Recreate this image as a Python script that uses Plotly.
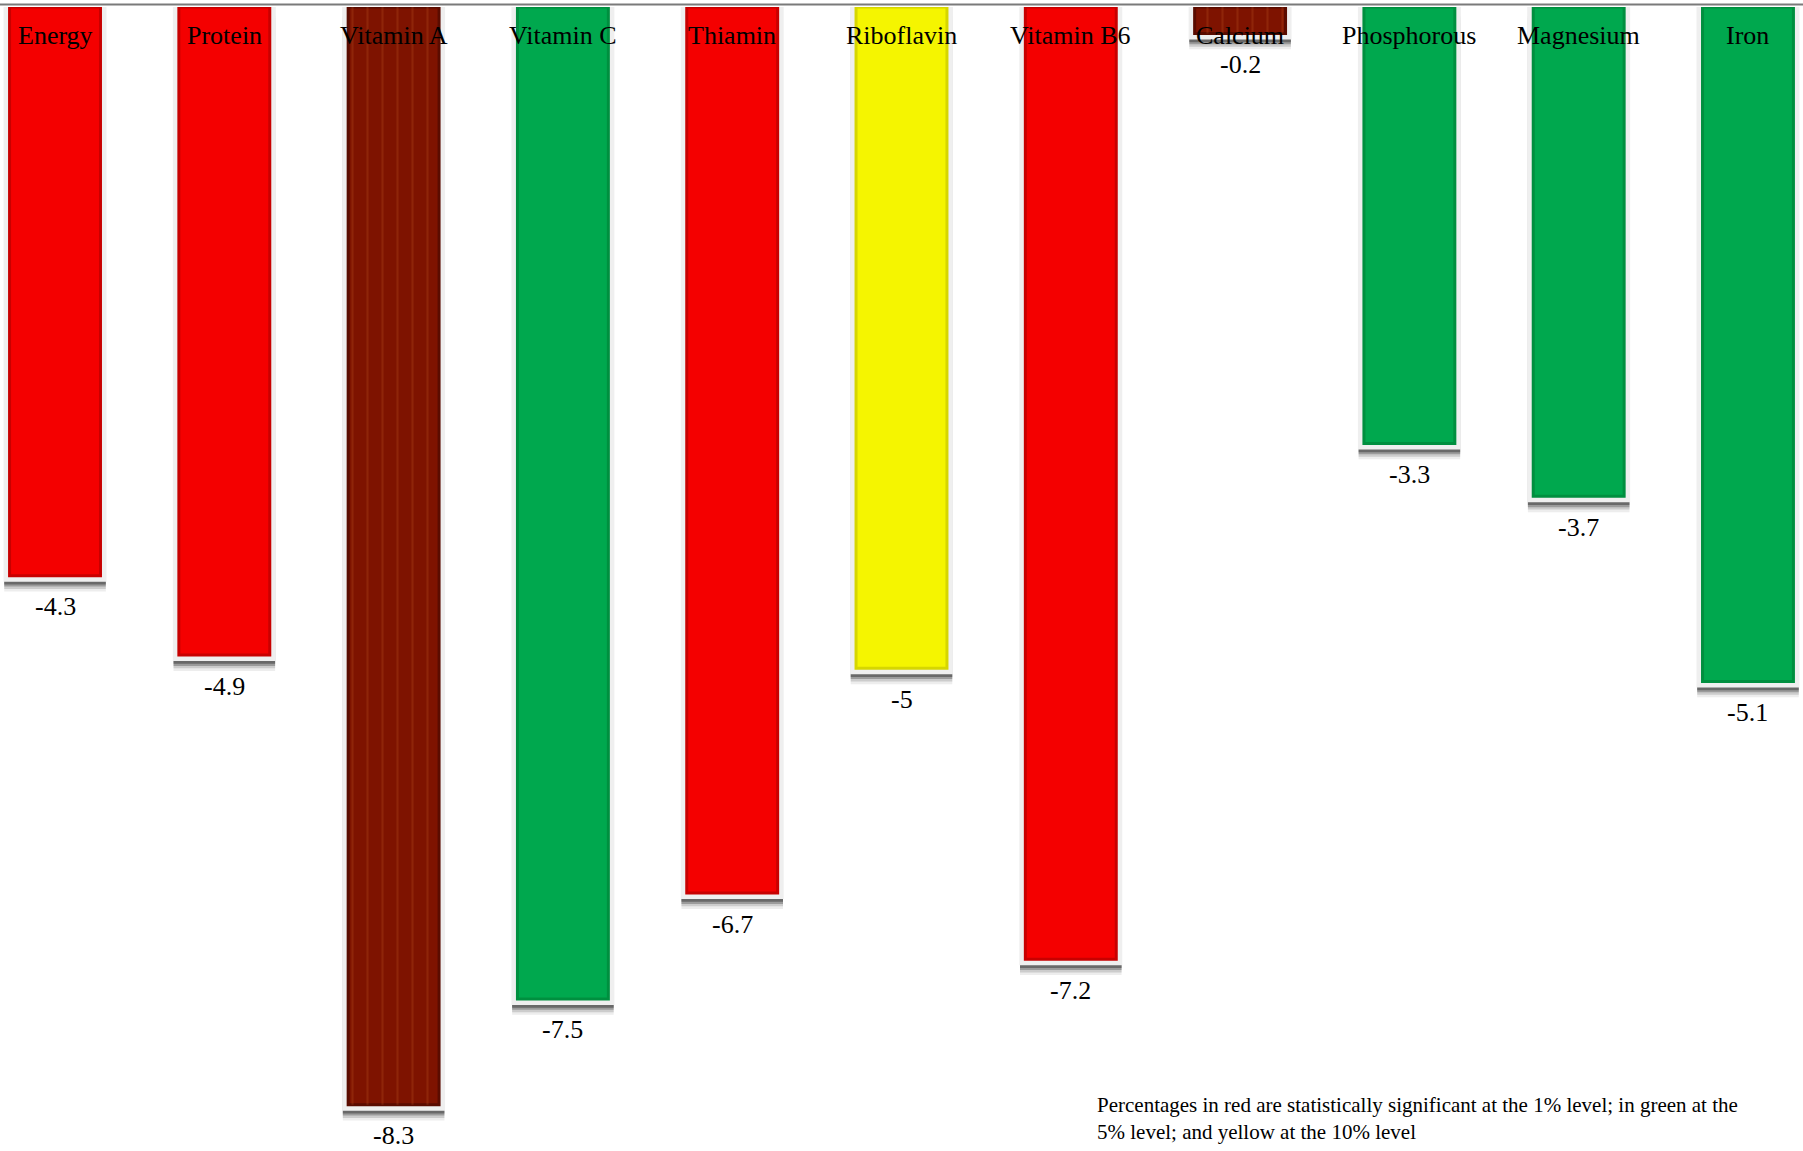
import plotly.graph_objects as go

# Percentage change in nutrient intake, by nutrient
nutrients = ["Energy", "Protein", "Vitamin A", "Vitamin C", "Thiamin", "Riboflavin",
             "Vitamin B6", "Calcium", "Phosphorous", "Magnesium", "Iron"]
change = [-4.3, -4.9, -8.3, -7.5, -6.7, -5, -7.2, -0.2, -3.3, -3.7, -5.1]
significance = ["1%", "1%", "ns", "5%", "1%", "10%", "1%", "ns", "5%", "5%", "5%"]

note = ("Percentages in red are statistically significant at the 1% level; in green at the<br>"
        "5% level; and yellow at the 10% level")

fill_colors = {"1%": "#f40000", "5%": "#00a84e", "10%": "#f5f500", "ns": "#7e1300"}
edge_colors = {"1%": "#c80000", "5%": "#008f3f", "10%": "#d6d600", "ns": "#5a0c00"}

W, H = 1803, 1151
TOP = 7
YMIN = -8.65
x = list(range(len(nutrients)))
fills = [fill_colors[s] for s in significance]
edges = [edge_colors[s] for s in significance]

serif = "Liberation Serif, Times New Roman, serif"
bar_w = 0.537

fig = go.Figure()

# soft drop shadow under each bar
for base, alpha in [(-0.12, 0.08), (-0.1, 0.16), (-0.082, 0.28), (-0.066, 0.40)]:
    fig.add_trace(go.Bar(
        x=x, y=change, base=base, width=0.6,
        marker=dict(color=f"rgba(30,30,30,{alpha})", line=dict(width=0)),
        hoverinfo="skip", showlegend=False))

# light frame around each bar
fig.add_trace(go.Bar(
    x=x, y=change, width=bar_w,
    marker=dict(color="#efefef", line=dict(color="#efefef", width=12)),
    hoverinfo="skip", showlegend=False))

# coloured bars
fig.add_trace(go.Bar(
    x=x, y=change, width=bar_w,
    marker=dict(color=fills, line=dict(color=edges, width=3)),
    showlegend=False))

# faint vertical stripes over the non-significant bars
ns = [i for i, s in enumerate(significance) if s == "ns"]
fig.add_trace(go.Bar(
    x=[x[i] for i in ns], y=[change[i] for i in ns], width=bar_w - 0.02,
    marker=dict(color="rgba(0,0,0,0)", line=dict(width=0),
                pattern=dict(shape="|", size=15, solidity=0.14, fillmode="overlay",
                             fgcolor="rgba(200,95,40,0.45)", bgcolor="rgba(0,0,0,0)")),
    hoverinfo="skip", showlegend=False))

annotations = []
for i, (name, v) in enumerate(zip(nutrients, change)):
    annotations.append(dict(x=i, y=0, xref="x", yref="y", text=name, showarrow=False,
                            yanchor="middle", yshift=-28,
                            font=dict(family=serif, size=26, color="black")))
    annotations.append(dict(x=i, y=v, xref="x", yref="y", text=f"{v:g}", showarrow=False,
                            yanchor="middle", yshift=-31,
                            font=dict(family=serif, size=26, color="black")))

annotations.append(dict(x=1095 / W, y=(H - 1091) / (H - TOP), xref="paper", yref="paper",
                        text=note, showarrow=False, align="left",
                        xanchor="left", yanchor="top",
                        font=dict(family=serif, size=21, color="black")))

fig.update_layout(
    width=W, height=H,
    margin=dict(l=0, r=0, t=TOP, b=0),
    paper_bgcolor="white", plot_bgcolor="white",
    barmode="overlay",
    xaxis=dict(range=[-0.325, 10.325], visible=False, fixedrange=True),
    yaxis=dict(range=[YMIN, 0], visible=False, fixedrange=True),
    annotations=annotations,
    shapes=[dict(type="line", xref="paper", yref="paper", x0=0, x1=1,
                 y0=1 + 2.5 / (H - TOP), y1=1 + 2.5 / (H - TOP),
                 line=dict(color="#7a7a7a", width=2))],
    showlegend=False,
)

fig.write_html("out.html")
